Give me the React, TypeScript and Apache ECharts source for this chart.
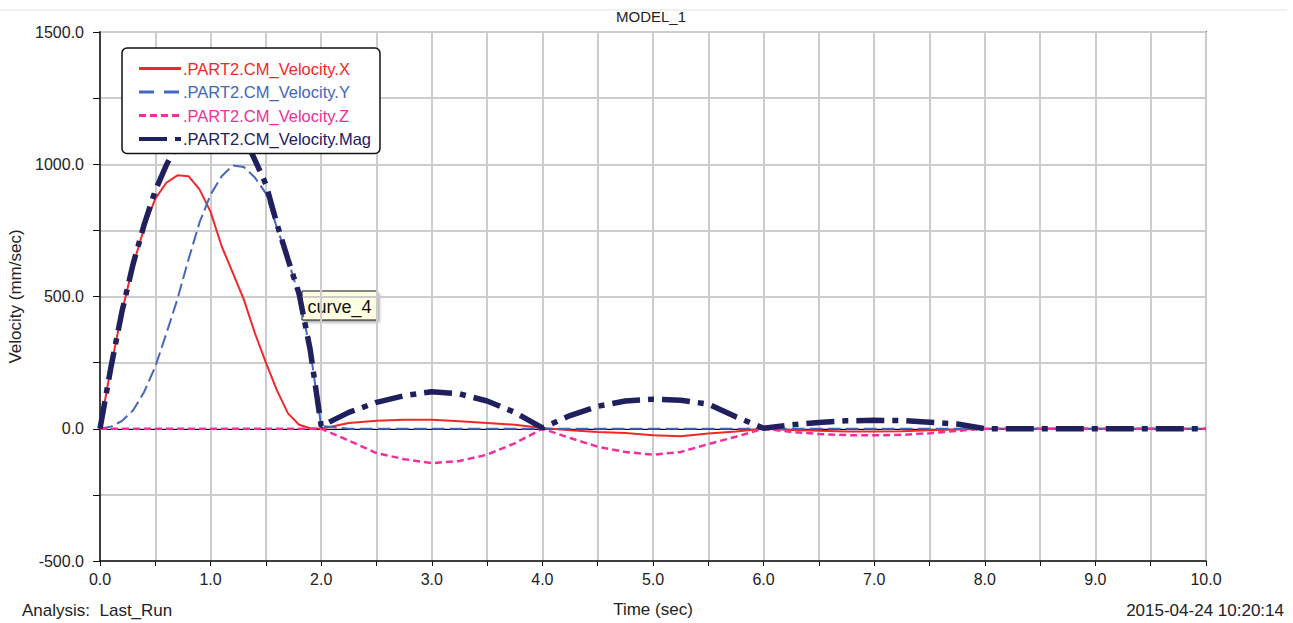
import React, { useEffect, useRef } from 'react';
import * as echarts from 'echarts';

const FONT = "'Liberation Sans', Arial, Helvetica, sans-serif";

const TIME = [
  0, 0.1, 0.2, 0.3, 0.4, 0.5, 0.6, 0.7, 0.8, 0.9, 1.0, 1.1, 1.2, 1.3, 1.4, 1.5, 1.6, 1.7, 1.8, 1.9, 2.0,
  2.25, 2.5, 2.75, 3.0, 3.25, 3.5, 3.75, 4.0,
  4.25, 4.5, 4.75, 5.0, 5.25, 5.5, 5.75, 6.0,
  6.25, 6.5, 6.75, 7.0, 7.25, 7.5, 7.75, 8.0,
  9.0, 10.0,
];

const VEL_X = [
  0, 235, 445, 620, 760, 870, 930, 958, 955, 905, 820, 690, 590, 489, 362, 250, 145, 58, 15, 2, 0,
  22, 30, 34, 34, 28, 22, 15, 3,
  -6, -12, -16, -25, -28, -18, -10, 0,
  -5, -8, -10, -10, -9, -6, -3, 0,
  0, 0,
];

const VEL_Y = [
  0, 8, 30, 70, 140, 235, 360, 490, 640, 780, 885, 955, 995, 990, 950, 890, 760, 640, 500, 300, 10,
  0, 0, 0, 0, 0, 0, 0, 0,
  0, 0, 0, 0, 0, 0, 0, 0,
  0, 0, 0, 0, 0, 0, 0, 0,
  0, 0,
];

const VEL_Z = [
  0, 0, 0, 0, 0, 0, 0, 0, 0, 0, 0, 0, 0, 0, 0, 0, 0, 0, 0, 0, 0,
  -45, -92, -115, -130, -122, -98, -55, 0,
  -35, -68, -88, -98, -88, -58, -30, 0,
  -12, -20, -24, -25, -23, -17, -8, 0,
  0, 0,
];

const VEL_MAG = [
  0, 235, 446, 624, 773, 901, 997, 1076, 1150, 1195, 1206, 1178, 1157, 1104, 1017, 924, 774, 640, 510, 300, 10,
  62, 100, 125, 140, 132, 105, 62, 3,
  50, 85, 105, 112, 108, 93, 45, 2,
  15, 24, 30, 32, 31, 25, 18, 0,
  0, 0,
];

const NAMES = [
  '.PART2.CM_Velocity.X',
  '.PART2.CM_Velocity.Y',
  '.PART2.CM_Velocity.Z',
  '.PART2.CM_Velocity.Mag',
];
const COLORS = ['#f02828', '#4466bb', '#f0309c', '#20205e'];
const WIDTHS = [2, 2, 2.5, 5.5];
const DASHES: any[] = ['solid', [13, 5], [7, 4], [28, 8, 6, 8]];
const LEGEND_WIDTHS = [3, 3, 3, 4];
const LEGEND_DASHES: any[] = ['solid', [15, 10], [7, 4], [28, 8, 6, 8]];

const X_MIN = 0, X_MAX = 10, X_STEP = 0.5;
const Y_MIN = -500, Y_MAX = 1500, Y_STEP = 250;

const TITLE = 'MODEL_1';
const X_NAME = 'Time (sec)';
const Y_NAME = 'Velocity (mm/sec)';
const ANALYSIS = 'Analysis:  Last_Run';
const STAMP = '2015-04-24 10:20:14';
const CURVE_TAG = 'curve_4';

const SERIES_VALUES = [VEL_X, VEL_Y, VEL_Z, VEL_MAG];

export default function App() {
  const ref = useRef<HTMLDivElement>(null);
  useEffect(() => {
    const chart = echarts.init(ref.current!, null, { renderer: 'svg' });
    const series: any[] = SERIES_VALUES.map((vals, i) => ({
      name: NAMES[i],
      type: 'line',
      data: TIME.map((t, k) => [t, vals[k]]),
      symbol: 'none',
      showSymbol: false,
      smooth: false,
      z: 2 + i,
      lineStyle: { color: COLORS[i], width: WIDTHS[i], type: DASHES[i], cap: 'butt' },
      itemStyle: { color: COLORS[i] },
      ...(i === 0
        ? {
            markLine: {
              silent: true,
              symbol: ['none', 'none'],
              label: { show: false },
              lineStyle: { color: '#000', width: 1, type: 'solid' },
              data: [{ yAxis: 0 }],
              z: 1,
            },
          }
        : {}),
    }));

    chart.setOption({
      animation: false,
      backgroundColor: '#fff',
      textStyle: { fontFamily: FONT },
      grid: {
        left: 100,
        right: 87,
        top: 32,
        bottom: 62,
        show: true,
        borderColor: '#111',
        borderWidth: 1.5,
        containLabel: false,
        outerBoundsMode: 'none',
      },
      legend: {
        show: true,
        orient: 'vertical',
        left: 122,
        top: 48,
        itemWidth: 42,
        itemHeight: 14,
        itemGap: 6.5,
        padding: [12, 9, 6, 15],
        backgroundColor: '#fff',
        borderColor: '#111',
        borderWidth: 1.5,
        borderRadius: 5,
        selectedMode: false,
        itemStyle: { opacity: 0 },
        textStyle: { fontSize: 16.5, fontFamily: FONT, padding: [0, 0, 0, -3] },
        data: NAMES.map((n, i) => ({
          name: n,
          textStyle: { color: COLORS[i], fontSize: 16.5, fontFamily: FONT },
          lineStyle: { color: COLORS[i], width: LEGEND_WIDTHS[i], type: LEGEND_DASHES[i] },
          itemStyle: { opacity: 0 },
        })),
        z: 10,
      },
      xAxis: {
        type: 'value',
        min: X_MIN,
        max: X_MAX,
        interval: X_STEP,
        name: X_NAME,
        nameLocation: 'middle',
        nameGap: 40,
        nameTextStyle: { fontSize: 17, color: '#222', fontFamily: FONT },
        axisLine: { show: true, onZero: false, lineStyle: { color: '#111', width: 1.5 } },
        axisTick: { show: true, inside: false, length: 5, lineStyle: { color: '#111', width: 1 } },
        axisLabel: {
          fontSize: 16,
          color: '#222',
          fontFamily: FONT,
          margin: 10,
          formatter: (v: number) => (Number.isInteger(v) ? v.toFixed(1) : ''),
        },
        splitLine: { show: true, lineStyle: { color: '#cccccc', width: 2 } },
      },
      yAxis: {
        type: 'value',
        min: Y_MIN,
        max: Y_MAX,
        interval: Y_STEP,
        name: Y_NAME,
        nameLocation: 'middle',
        nameGap: 73,
        nameTextStyle: { fontSize: 17, color: '#222', fontFamily: FONT },
        axisLine: { show: true, lineStyle: { color: '#111', width: 1.5 } },
        axisTick: { show: true, inside: false, length: 7, lineStyle: { color: '#111', width: 1 } },
        axisLabel: {
          fontSize: 16,
          color: '#222',
          fontFamily: FONT,
          margin: 16,
          formatter: (v: number) => (v % 500 === 0 ? v.toFixed(1) : ''),
        },
        splitLine: { show: true, lineStyle: { color: '#cccccc', width: 2 } },
      },
      graphic: [
        {
          type: 'line',
          shape: { x1: 0, y1: 10, x2: 1287, y2: 10 },
          style: { stroke: '#e2e2e2', lineWidth: 1 },
          silent: true,
        },
        {
          type: 'text',
          x: 651,
          y: 16,
          style: { text: TITLE, fontSize: 15, fontFamily: FONT, fill: '#222', align: 'center', verticalAlign: 'middle' },
        },
        {
          type: 'text',
          x: 22,
          y: 610,
          style: { text: ANALYSIS, fontSize: 17, fontFamily: FONT, fill: '#222', align: 'left', verticalAlign: 'middle' },
        },
        {
          type: 'text',
          x: 1284,
          y: 610,
          style: { text: STAMP, fontSize: 17, fontFamily: FONT, fill: '#222', align: 'right', verticalAlign: 'middle' },
        },
        {
          type: 'group',
          x: 302,
          y: 291,
          z: 100,
          children: [
            {
              type: 'rect',
              shape: { x: 0, y: 0, width: 75, height: 29 },
              style: {
                fill: '#ffffe1',
                stroke: '#111',
                lineWidth: 1,
                shadowBlur: 3,
                shadowOffsetX: 2,
                shadowOffsetY: 2,
                shadowColor: 'rgba(0,0,0,0.35)',
              },
            },
            {
              type: 'text',
              x: 37.5,
              y: 16,
              style: { text: CURVE_TAG, fontSize: 18, fontFamily: FONT, fill: '#111', align: 'center', verticalAlign: 'middle' },
            },
          ],
        },
      ],
      series,
    });
    return () => chart.dispose();
  }, []);
  return (
    <div
      ref={ref}
      style={{ position: 'absolute', left: 0, top: 0, width: 1293, height: 623, background: '#fff' }}
    />
  );
}
